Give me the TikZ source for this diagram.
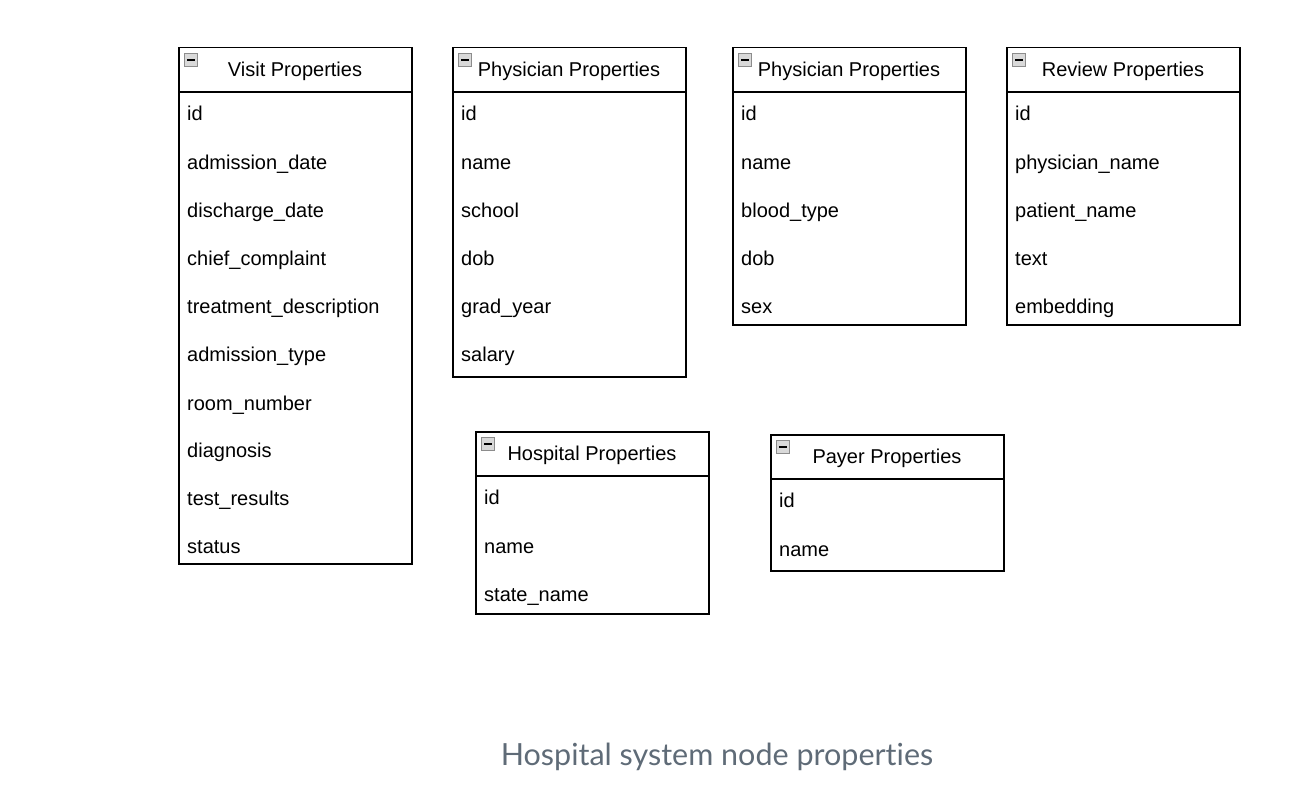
\documentclass[tikz,border=0pt]{standalone}
\usepackage{fontspec}
\setmainfont{Liberation Sans}
\newfontfamily\capfont[Ligatures=NoCommon]{Lato}
\definecolor{capgray}{HTML}{5F6B77}
\begin{document}
\begin{tikzpicture}[x=1pt,y=-1pt,
  hdr/.style={draw=black, line width=1.5pt, fill=white, minimum width=233pt, minimum height=44pt, anchor=north west, inner sep=0pt},
  hdrtext/.style={inner sep=0pt, yshift=-3.5pt, text height=0.72em, text depth=0pt, font=\fontsize{20}{24}\selectfont},
  bodybox/.style={draw=black, line width=1.5pt, fill=white, minimum width=233pt, anchor=north west, inner sep=0pt},
  row/.style={anchor=west, inner sep=0pt, yshift=-3.5pt, text height=0.72em, text depth=0pt, font=\fontsize{20}{24}\selectfont},
  icon/.style={draw=gray!90, fill=gray!30, line width=0.8pt, minimum size=12.5pt, inner sep=0pt,
    path picture={\draw[black, line width=1.8pt] ([xshift=2.5pt]path picture bounding box.west) -- ([xshift=-2.5pt]path picture bounding box.east);}},
  caption/.style={font=\capfont\fontsize{30.5}{34}\selectfont, text=capgray}
]
\useasboundingbox (0,0) rectangle (1300,808);

% Visit Properties
\node[bodybox, minimum height=472pt] (vb) at (178,91) {};
\node[hdr] (v) at (178,47) {};
\node[hdrtext] (vt) at (295,69) {Visit Properties};
\node[icon] (vi) at (191,60) {};
\node[row] (v1) at (187,113) {id};
\node[row] (v2) at (187,162) {admission\_date};
\node[row] (v3) at (187,210) {discharge\_date};
\node[row] (v4) at (187,258) {chief\_complaint};
\node[row] (v5) at (187,306) {treatment\_description};
\node[row] (v6) at (187,354) {admission\_type};
\node[row] (v7) at (187,403) {room\_number};
\node[row] (v8) at (187,450) {diagnosis};
\node[row] (v9) at (187,498) {test\_results};
\node[row] (v10) at (187,546) {status};

% Physician Properties 1
\node[bodybox, minimum height=285pt] (pb) at (452,91) {};
\node[hdr] (p) at (452,47) {};
\node[hdrtext] (pt) at (569,69) {Physician Properties};
\node[icon] (pi) at (465,60) {};
\node[row] (p1) at (461,113) {id};
\node[row] (p2) at (461,162) {name};
\node[row] (p3) at (461,210) {school};
\node[row] (p4) at (461,258) {dob};
\node[row] (p5) at (461,306) {grad\_year};
\node[row] (p6) at (461,354) {salary};

% Physician Properties 2
\node[bodybox, minimum height=233pt] (qb) at (732,91) {};
\node[hdr] (q) at (732,47) {};
\node[hdrtext] (qt) at (849,69) {Physician Properties};
\node[icon] (qi) at (745,60) {};
\node[row] (q1) at (741,113) {id};
\node[row] (q2) at (741,162) {name};
\node[row] (q3) at (741,210) {blood\_type};
\node[row] (q4) at (741,258) {dob};
\node[row] (q5) at (741,306) {sex};

% Review Properties
\node[bodybox, minimum height=233pt] (rb) at (1006,91) {};
\node[hdr] (r) at (1006,47) {};
\node[hdrtext] (rt) at (1123,69) {Review Properties};
\node[icon] (ri) at (1019,60) {};
\node[row] (r1) at (1015,113) {id};
\node[row] (r2) at (1015,162) {physician\_name};
\node[row] (r3) at (1015,210) {patient\_name};
\node[row] (r4) at (1015,258) {text};
\node[row] (r5) at (1015,306) {embedding};

% Hospital Properties
\node[bodybox, minimum height=138pt] (hb) at (475,475) {};
\node[hdr] (h) at (475,431) {};
\node[hdrtext] (ht) at (592,453) {Hospital Properties};
\node[icon] (hi) at (488,444) {};
\node[row] (h1) at (484,497) {id};
\node[row] (h2) at (484,546) {name};
\node[row] (h3) at (484,594) {state\_name};

% Payer Properties
\node[bodybox, minimum height=92pt] (yb) at (770,478) {};
\node[hdr] (y) at (770,434) {};
\node[hdrtext] (yt) at (887,456) {Payer Properties};
\node[icon] (yi) at (783,447) {};
\node[row] (y1) at (779,500) {id};
\node[row] (y2) at (779,549) {name};

% Caption
\node[caption] (cap) at (717,757) {Hospital system node properties};
\end{tikzpicture}
\end{document}
